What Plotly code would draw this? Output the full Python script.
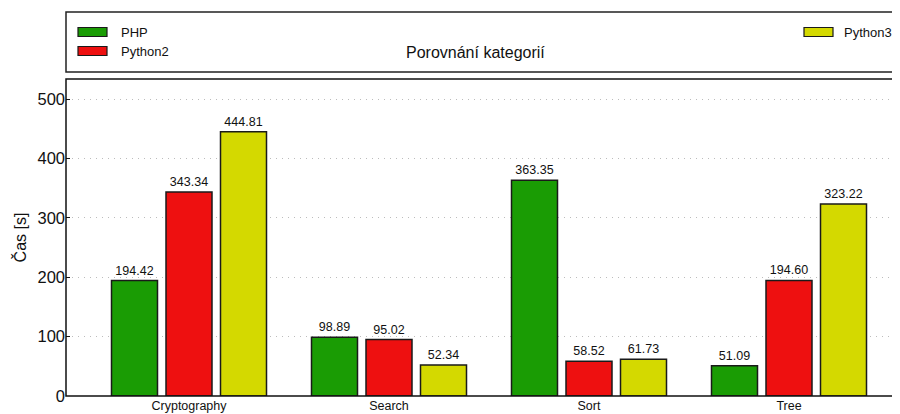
import plotly.graph_objects as go

# data
categories = ["Cryptography", "Search", "Sort", "Tree"]
series_names = ["PHP", "Python2", "Python3"]
php = [194.42, 98.89, 363.35, 51.09]
python2 = [343.34, 95.02, 58.52, 194.60]
python3 = [444.81, 52.34, 61.73, 323.22]
y_ticks = [0, 100, 200, 300, 400, 500]

colors = ["#1a9c04", "#ee1010", "#d4d900"]
FONT = "Liberation Sans, Arial, sans-serif"

# the page puts the figure 8px in from the top-left corner, so size it to fit
OFF = 8
W, H = 900 - OFF, 414 - OFF
L, R, T, B = 66 - OFF, 0, 79 - OFF, 18


def px_x(x):
    # screen pixel -> paper coordinate
    return (x - OFF - L) / (W - L - R)


def px_y(y):
    return (H - B - (y - OFF)) / (H - T - B)


fig = go.Figure()
x_pos = list(range(len(categories)))
for name, vals, col in zip(series_names, [php, python2, python3], colors):
    fig.add_trace(go.Bar(
        x=x_pos, y=vals, name=name,
        marker=dict(color=col, line=dict(color="#1a1a1a", width=1.5)),
        text=[f"{v:.2f}" for v in vals], textposition="outside",
        textfont=dict(family=FONT, size=12.5, color="#111"),
        cliponaxis=False, showlegend=False,
    ))

ymax = max(max(php), max(python2), max(python3)) * 1.2

fig.update_layout(
    width=W, height=H,
    margin=dict(l=L, r=R, t=T, b=B, pad=0),
    plot_bgcolor="white", paper_bgcolor="white",
    barmode="group", bargap=0.1825, bargroupgap=0.156,
    font=dict(family=FONT, color="#111"),
    xaxis=dict(
        tickvals=x_pos, ticktext=categories, range=[-0.615, 3.555],
        showgrid=False, zeroline=False, showline=False, ticks="",
        tickfont=dict(size=12.5),
    ),
    yaxis=dict(
        range=[0, ymax], tickvals=y_ticks, showgrid=True,
        gridcolor="#bcbcbc", griddash="1px,5px", gridwidth=1,
        zeroline=False, showline=False, ticks="inside", ticklen=4,
        tickcolor="#111", tickfont=dict(size=16.5),
        title=dict(text="Čas [s]", font=dict(size=16), standoff=6),
    ),
)

# axes frame and upper legend/title box
fig.add_shape(type="rect", xref="paper", yref="paper", x0=0, x1=1.02, y0=0, y1=1,
              line=dict(color="#111", width=1.5), layer="above")
fig.add_shape(type="rect", xref="paper", yref="paper", x0=0, x1=1.02,
              y0=px_y(72), y1=px_y(12), line=dict(color="#222", width=1.5))

# manual legend (matplotlib style expanded legend): swatch x, text x, row y
legend_pos = [(78, 119, 32), (78, 119, 51), (804, 842, 32)]
for name, col, (sx, tx, ly) in zip(series_names, colors, legend_pos):
    fig.add_shape(type="rect", xref="paper", yref="paper",
                  x0=px_x(sx), x1=px_x(sx + 29), y0=px_y(ly + 4.5), y1=px_y(ly - 4.5),
                  fillcolor=col, line=dict(color="#1a1a1a", width=1.2))
    fig.add_annotation(text=name, xref="paper", yref="paper", x=px_x(tx), y=px_y(ly),
                       xanchor="left", yanchor="middle", showarrow=False,
                       font=dict(size=13, color="#111"))

fig.add_annotation(text="Porovnání kategorií", xref="paper", yref="paper",
                   x=px_x(475), y=px_y(52), xanchor="center", yanchor="middle",
                   showarrow=False, font=dict(size=16, color="#111"))

fig.write_html("out.html")
